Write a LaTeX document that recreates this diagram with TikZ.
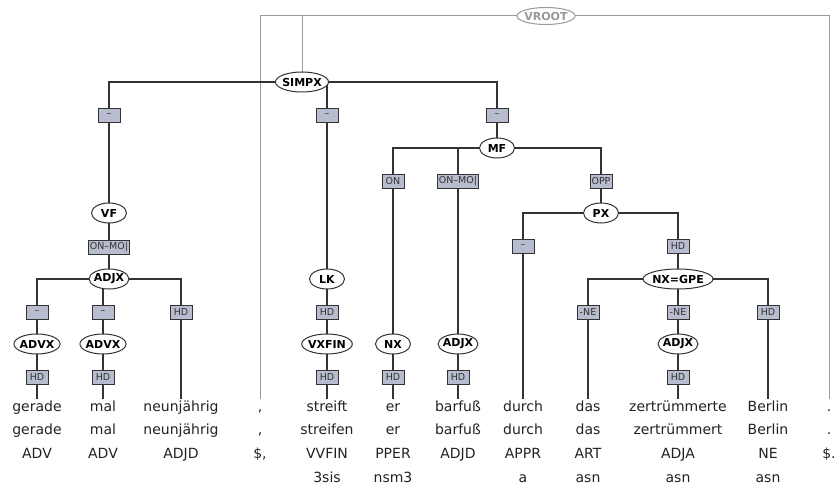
\documentclass[tikz,border=0pt]{standalone}
\usepackage{fontspec}
\setmainfont{DejaVu Sans}
\usetikzlibrary{shapes.geometric}
\pgfdeclarelayer{bg}
\pgfsetlayers{bg,main}
\definecolor{edgecol}{HTML}{333333}
\definecolor{rootcol}{HTML}{999999}
\definecolor{lblfill}{HTML}{B8BCCF}
\definecolor{wordcol}{HTML}{222222}
\newcommand\wtop{\rule{0pt}{12pt}}
\tikzset{
  cat/.style={ellipse, draw=edgecol, line width=1pt, fill=white,
    font=\fontsize{11}{12}\selectfont\bfseries, text=black,
    inner xsep=-1pt, inner ysep=0pt, minimum width=35pt, minimum height=20pt},
  rootcat/.style={cat, draw=rootcol, text=rootcol, minimum height=17pt},
  lbl/.style={draw=edgecol, fill=lblfill, line width=0.9pt,
    font=\fontsize{9.5}{10}\selectfont, text=edgecol,
    inner xsep=1.5pt, inner ysep=0pt, minimum width=22pt, minimum height=14pt},
  word/.style={anchor=north, align=center, inner sep=0pt,
    font=\fontsize{14}{23.7}\selectfont, text=wordcol},
  tree/.style={draw=edgecol, line width=1.05pt},
  rootline/.style={draw=rootcol, line width=1pt},
}
\begin{document}
\begin{tikzpicture}[x=1pt,y=-1pt]
\useasboundingbox (0,0) rectangle (840,489);

% tokens with lemma, tag and morphology
\node[word] (w1)  at (37,399)  {\wtop gerade\\gerade\\ADV};
\node[word] (w2)  at (103,399) {\wtop mal\\mal\\ADV};
\node[word] (w3)  at (181,399) {\wtop neunjährig\\neunjährig\\ADJD};
\node[word] (w4)  at (260,399) {\wtop ,\\,\\\$,};
\node[word] (w5)  at (327,399) {\wtop streift\\streifen\\VVFIN\\3sis};
\node[word] (w6)  at (393,399) {\wtop er\\er\\PPER\\nsm3};
\node[word] (w7)  at (458,399) {\wtop barfuß\\barfuß\\ADJD};
\node[word] (w8)  at (523,399) {\wtop durch\\durch\\APPR\\a};
\node[word] (w9)  at (588,399) {\wtop das\\das\\ART\\asn};
\node[word] (w10) at (678,399) {\wtop zertrümmerte\\zertrümmert\\ADJA\\asn};
\node[word] (w11) at (768,399) {\wtop Berlin\\Berlin\\NE\\asn};
\node[word] (w12) at (829,399) {\wtop .\\.\\\$.};

% phrase nodes
\node[rootcat] (vroot) at (546,16) {VROOT};
\node[cat] (simpx) at (302,82) {SIMPX};
\node[cat] (vf)    at (109,213) {VF};
\node[cat] (adjxa) at (109,279) {ADJX};
\node[cat] (advxa) at (37,344) {ADVX};
\node[cat] (advxb) at (103,344) {ADVX};
\node[cat] (lk)    at (327,279) {LK};
\node[cat] (vxfin) at (327,344) {VXFIN};
\node[cat] (mf)    at (497,148) {MF};
\node[cat] (nx)    at (393,344) {NX};
\node[cat] (adjxb) at (458,344) {ADJX};
\node[cat] (px)    at (601,213) {PX};
\node[cat] (nxgpe) at (678,279) {NX=GPE};
\node[cat] (adjxc) at (678,344) {ADJX};

% edge labels
\node[lbl] (e1)  at (109,115) {–};
\node[lbl] (e2)  at (327,115) {–};
\node[lbl] (e3)  at (497,115) {–};
\node[lbl] (e4)  at (109,247) {ON–MO|};
\node[lbl] (e5)  at (37,312)  {–};
\node[lbl] (e6)  at (103,312) {–};
\node[lbl] (e7)  at (181,312) {HD};
\node[lbl] (e8)  at (37,377)  {HD};
\node[lbl] (e9)  at (103,377) {HD};
\node[lbl] (e10) at (327,312) {HD};
\node[lbl] (e11) at (327,377) {HD};
\node[lbl] (e12) at (393,181) {ON};
\node[lbl] (e13) at (458,181) {ON–MO|};
\node[lbl] (e14) at (601,181) {OPP};
\node[lbl] (e15) at (393,377) {HD};
\node[lbl] (e16) at (458,377) {HD};
\node[lbl] (e17) at (523,246) {–};
\node[lbl] (e18) at (678,246) {HD};
\node[lbl] (e19) at (588,312) {-NE};
\node[lbl] (e20) at (678,312) {-NE};
\node[lbl] (e21) at (768,312) {HD};
\node[lbl] (e22) at (678,377) {HD};

\begin{pgfonlayer}{bg}
  % virtual root attachments
  \draw[rootline] (vroot.center) -| (w4.north);
  \draw[rootline] (vroot.center) -| (simpx.center);
  \draw[rootline] (vroot.center) -| (w12.north);
  % clause
  \draw[tree] (simpx.center) -| (e1.center) -- (vf.center);
  \draw[tree] (simpx.center) -| (e2.center) -- (lk.center);
  \draw[tree] (simpx.center) -| (e3.center) -- (mf.center);
  % Vorfeld
  \draw[tree] (vf.center) -- (e4.center) -- (adjxa.center);
  \draw[tree] (adjxa.center) -| (e5.center) -- (advxa.center);
  \draw[tree] (adjxa.center) -| (e6.center) -- (advxb.center);
  \draw[tree] (adjxa.center) -| (e7.center) -- (w3.north);
  \draw[tree] (advxa.center) -- (e8.center) -- (w1.north);
  \draw[tree] (advxb.center) -- (e9.center) -- (w2.north);
  % left bracket
  \draw[tree] (lk.center) -- (e10.center) -- (vxfin.center);
  \draw[tree] (vxfin.center) -- (e11.center) -- (w5.north);
  % Mittelfeld
  \draw[tree] (mf.center) -| (e12.center) -- (nx.center);
  \draw[tree] (mf.center) -| (e13.center) -- (adjxb.center);
  \draw[tree] (mf.center) -| (e14.center) -- (px.center);
  \draw[tree] (nx.center) -- (e15.center) -- (w6.north);
  \draw[tree] (adjxb.center) -- (e16.center) -- (w7.north);
  % prepositional phrase
  \draw[tree] (px.center) -| (e17.center) -- (w8.north);
  \draw[tree] (px.center) -| (e18.center) -- (nxgpe.center);
  \draw[tree] (nxgpe.center) -| (e19.center) -- (w9.north);
  \draw[tree] (nxgpe.center) -| (e20.center) -- (adjxc.center);
  \draw[tree] (nxgpe.center) -| (e21.center) -- (w11.north);
  \draw[tree] (adjxc.center) -- (e22.center) -- (w10.north);
\end{pgfonlayer}
\end{tikzpicture}
\end{document}
